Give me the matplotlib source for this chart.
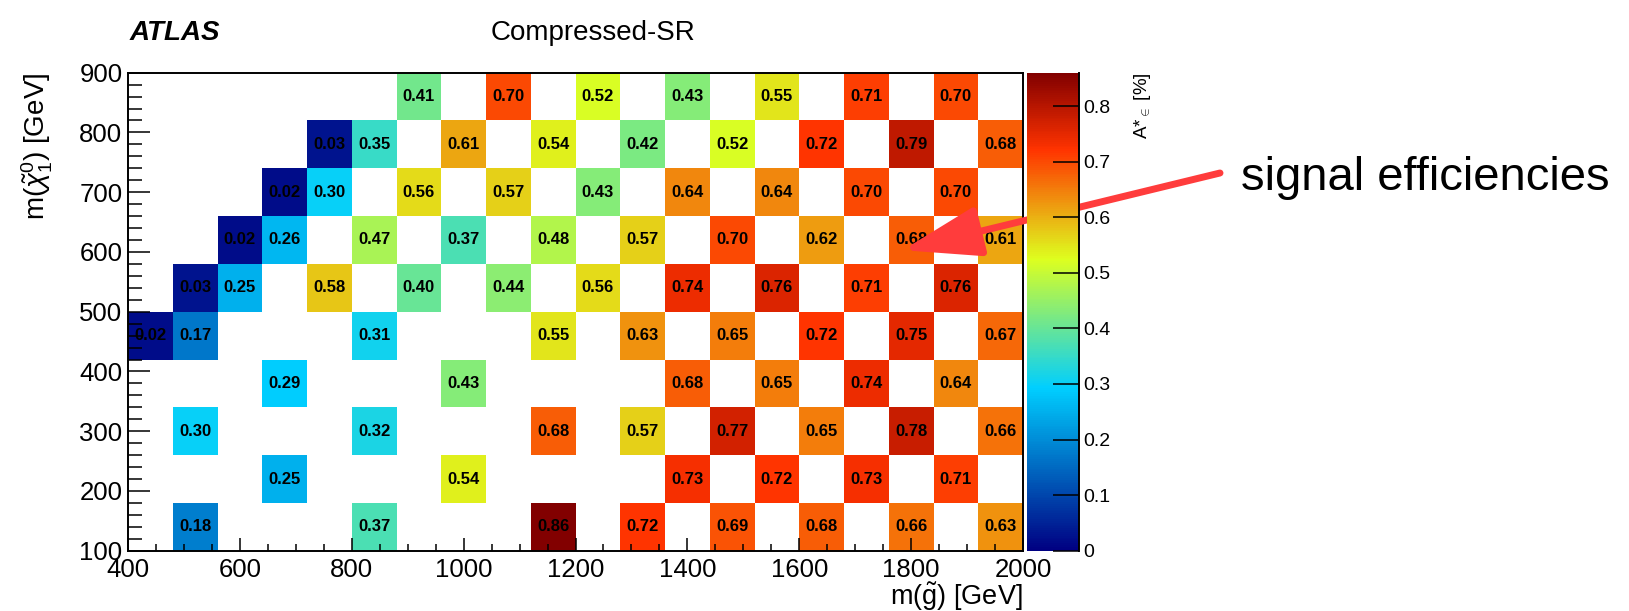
import numpy as np
import matplotlib
matplotlib.use("Agg")
import matplotlib.pyplot as plt
from matplotlib.colors import LinearSegmentedColormap
from matplotlib.ticker import MultipleLocator, FuncFormatter

plt.rcParams['font.family'] = ['Liberation Sans', 'DejaVu Sans']
plt.rcParams['mathtext.fontset'] = 'custom'
plt.rcParams['mathtext.rm'] = 'Liberation Sans'
plt.rcParams['mathtext.it'] = 'Liberation Sans:italic'
plt.rcParams['mathtext.bf'] = 'Liberation Sans:bold'

# ---------------- data ----------------
# gluino mass bin edges (GeV) and neutralino mass bin edges (GeV)
x_edges = [400, 480, 560, 640, 720, 800, 880, 960, 1040, 1120, 1200,
           1280, 1360, 1440, 1520, 1600, 1680, 1760, 1840, 1920, 2000]
y_edges = [100, 180, 260, 340, 420, 500, 580, 660, 740, 820, 900]

N = None
# acceptance x efficiency per row, listed from the top row (m_chi ~ 860) down
row_860 = [N, N, N, N, N, N, .41, N, .70, N, .52, N, .43, N, .55, N, .71, N, .70, N]
row_780 = [N, N, N, N, .03, .35, N, .61, N, .54, N, .42, N, .52, N, .72, N, .79, N, .68]
row_700 = [N, N, N, .02, .30, N, .56, N, .57, N, .43, N, .64, N, .64, N, .70, N, .70, N]
row_620 = [N, N, .02, .26, N, .47, N, .37, N, .48, N, .57, N, .70, N, .62, N, .68, N, .61]
row_540 = [N, .03, .25, N, .58, N, .40, N, .44, N, .56, N, .74, N, .76, N, .71, N, .76, N]
row_460 = [.02, .17, N, N, N, .31, N, N, N, .55, N, .63, N, .65, N, .72, N, .75, N, .67]
row_380 = [N, N, N, .29, N, N, N, .43, N, N, N, N, .68, N, .65, N, .74, N, .64, N]
row_300 = [N, .30, N, N, N, .32, N, N, N, .68, N, .57, N, .77, N, .65, N, .78, N, .66]
row_220 = [N, N, N, .25, N, N, N, .54, N, N, N, N, .73, N, .72, N, .73, N, .71, N]
row_140 = [N, .18, N, N, N, .37, N, N, N, .86, N, .72, N, .69, N, .68, N, .66, N, .63]

rows_top_down = [row_860, row_780, row_700, row_620, row_540,
                 row_460, row_380, row_300, row_220, row_140]

cbar_ticks = [0, 0.1, 0.2, 0.3, 0.4, 0.5, 0.6, 0.7, 0.8]

# ---------------- figure ----------------
W, H = 1629, 611
fig = plt.figure(figsize=(W / 100, H / 100), dpi=100)
ax = fig.add_axes([128 / W, 1 - 550.7 / H, (1023 - 128) / W, (550.7 - 72.7) / H])
cax = fig.add_axes([1026.7 / W, 1 - 550.7 / H, (1079.5 - 1026.7) / W, (550.7 - 72.7) / H])

grid = np.array([[np.nan if v is None else v for v in r] for r in rows_top_down[::-1]], dtype=float)
Z = np.ma.masked_invalid(grid)

cmap = LinearSegmentedColormap.from_list(
    "atlas",
    [(0.00, (0.00, 0.00, 0.51)),
     (0.34, (0.00, 0.81, 1.00)),
     (0.61, (0.87, 1.00, 0.12)),
     (0.84, (1.00, 0.20, 0.00)),
     (1.00, (0.51, 0.00, 0.00))])
vmax = float(np.nanmax(grid))

mesh = ax.pcolormesh(x_edges, y_edges, Z, cmap=cmap, vmin=0, vmax=vmax)

xc = 0.5 * (np.array(x_edges[:-1]) + np.array(x_edges[1:]))
yc = 0.5 * (np.array(y_edges[:-1]) + np.array(y_edges[1:]))
for j in range(grid.shape[0]):
    for i in range(grid.shape[1]):
        v = grid[j, i]
        if np.isfinite(v):
            ax.text(xc[i], yc[j], f"{v:.2f}", ha='center', va='center',
                    fontsize=12, fontweight='bold', color='black')

ax.set_xlim(x_edges[0], x_edges[-1])
ax.set_ylim(y_edges[0], y_edges[-1])
ax.xaxis.set_major_locator(MultipleLocator(200))
ax.xaxis.set_minor_locator(MultipleLocator(50))
ax.yaxis.set_major_locator(MultipleLocator(100))
ax.yaxis.set_minor_locator(MultipleLocator(20))
ax.tick_params(axis='x', which='major', direction='in', length=9.5, width=1.1,
               labelsize=18.5, pad=5.5, top=False)
ax.tick_params(axis='x', which='minor', direction='in', length=5, width=1.1, top=False)
ax.tick_params(axis='y', which='major', direction='in', length=16, width=1.1,
               labelsize=18.5, pad=4, right=False)
ax.tick_params(axis='y', which='minor', direction='in', length=10, width=1.1, right=False)
for s in ax.spines.values():
    s.set_linewidth(1.4)

ax.set_xlabel(r"m($\tilde{\mathrm{g}}$) [GeV]", fontsize=19.5, loc='right')
ax.xaxis.set_label_coords(1.0, -0.063)
ax.set_ylabel(r"m($\tilde{\chi}^{0}_{1}$) [GeV]", fontsize=20, loc='top')
ax.yaxis.set_label_coords(-0.0815, 1.0)

cb = fig.colorbar(mesh, cax=cax)
cb.outline.set_visible(False)
cax.axvline(1, color='black', lw=1.4, clip_on=False)
cb.set_ticks(cbar_ticks)
cax.yaxis.set_major_formatter(FuncFormatter(lambda v, p: f"{v:g}"))
cax.minorticks_off()
cax.tick_params(axis='y', direction='in', length=19, width=1.1, labelsize=14, pad=3)
cax.set_ylabel(r"A*$_{\in}$ [%]", fontsize=13.5, loc='top')
cax.yaxis.set_label_coords(2.0, 1.0)

fig.text(130 / W, 1 - 33 / H, "ATLAS", fontsize=20, fontweight='bold', fontstyle='italic',
         ha='left', va='center')
fig.text(593 / W, 1 - 33 / H, "Compressed-SR", fontsize=20, ha='center', va='center')

fig.text(1241 / W, 1 - 190 / H, "signal efficiencies", fontsize=34, ha='left', va='baseline')
ax.annotate("", xy=(1785, 603), xycoords='data',
            xytext=(1220 / W, 1 - 173 / H), textcoords='figure fraction',
            arrowprops=dict(arrowstyle='-|>,head_length=48,head_width=15.5',
                            mutation_scale=1, lw=5, color='#ff3c3c',
                            shrinkA=0, shrinkB=0),
            annotation_clip=False)

fig.savefig("out.png", dpi=100, facecolor='white')
